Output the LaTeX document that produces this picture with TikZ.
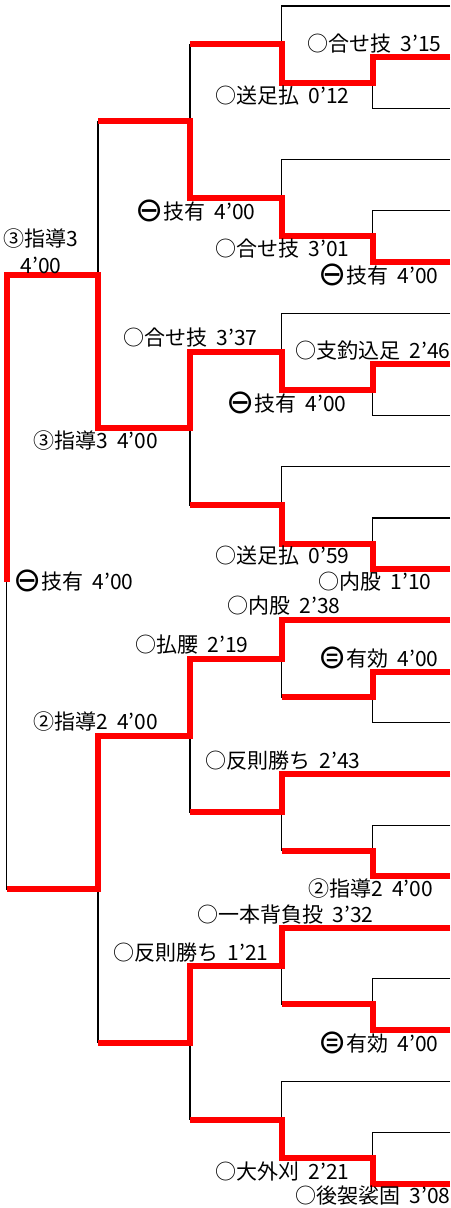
\documentclass[tikz,border=0pt]{standalone}
\usepackage{fontspec}
\setmainfont[WordSpace=2]{Noto Sans CJK JP}
\newfontfamily\symfont[Scale=1.6]{DejaVu Sans}
\newcommand{\minus}{\raisebox{-2pt}{\symfont ⊖}}
\newcommand{\equal}{\raisebox{-2pt}{\symfont ⊜}}
\tikzset{
  line/.style={line width=1.2pt, black},
  win/.style={line width=6pt, red},
  score/.style={anchor=west, inner sep=0pt, font=\fontsize{21}{27}\selectfont}
}

\begin{document}
\begin{tikzpicture}[x=1pt, y=-51.2pt]
  \useasboundingbox (0,-0.1172) rectangle (450,23.4766);
  \clip (0,-0.1172) rectangle (450,23.4766);

  % entries at the right edge
  \foreach \k in {0,...,23} \coordinate (L\k) at (450,\k);

  % match points, round by round
  \foreach \i in {1,...,8} \coordinate (A\i) at (372.5,{3*\i-1.5});
  \foreach \i in {1,...,8} \coordinate (B\i) at (281.5,{3*\i-2.25});
  \foreach \j in {1,...,4} \coordinate (C\j) at (190,{6*\j-3.75});
  \coordinate (D1) at (98,5.25);
  \coordinate (D2) at (98,17.25);
  \coordinate (E) at (6.5,11.25);

  % bracket
  \foreach \i/\p/\t/\b in {1/0/1/2,2/3/4/5,3/6/7/8,4/9/10/11,5/12/13/14,6/15/16/17,7/18/19/20,8/21/22/23}{
    \draw[line] (L\t) -| (A\i) |- (L\b);
    \draw[line] (L\p) -| (B\i) |- (A\i);
  }
  \foreach \j/\t/\b in {1/1/2,2/3/4,3/5/6,4/7/8}
    \draw[line] (B\t) -| (C\j) |- (B\b);
  \draw[line] (C1) -| (D1) |- (C2);
  \draw[line] (C3) -| (D2) |- (C4);
  \draw[line] (D1) -| (E) |- (D2);

  % winners
  \draw[win] (L1) -| (A1) -| (B1) -- (B1 -| C1);
  \draw[win] (L5) -| (A2) -| (B2) -| (C1) -- (C1 -| D1);
  \draw[win] (L7) -| (A3) -| (B3) -| (C2) -| (D1) -| (E);
  \draw[win] (L11) -| (A4) -| (B4) -- (B4 -| C2);
  \draw[win] (L13) -| (A5) -- (A5 -| B5);
  \draw[win] (L12) -| (B5) -| (C3) -| (D2) -- (D2 -| E);
  \draw[win] (L17) -| (A6) -- (A6 -| B6);
  \draw[win] (L15) -| (B6) -- (B6 -| C3);
  \draw[win] (L20) -| (A7) -- (A7 -| B7);
  \draw[win] (L18) -| (B7) -| (C4) -- (C4 -| D2);
  \draw[win] (L23) -| (A8) -| (B8) -- (B8 -| C4);

  % results
  \node[score] (s1) at (307,0.742) {○合せ技 3'15};
  \node[score] (s2) at (215,1.758) {○送足払 0'12};
  \node[score] (s3) at (135,4.004) {\minus 技有 4'00};
  \node[score, anchor=center, align=center] (s4) at (41,4.795) {③指導3\\4'00};
  \node[score] (s5) at (215,4.746) {○合せ技 3'01};
  \node[score] (s6) at (318,5.254) {\minus 技有 4'00};
  \node[score] (s7) at (123,6.484) {○合せ技 3'37};
  \node[score] (s8) at (295,6.738) {○支釣込足 2'46};
  \node[score] (s9) at (226,7.754) {\minus 技有 4'00};
  \node[score] (s10) at (33,8.496) {③指導3 4'00};
  \node[score] (s11) at (215,10.742) {○送足払 0'59};
  \node[score] (s12) at (318,11.25) {○内股 1'10};
  \node[score] (s13) at (13,11.23) {\minus 技有 4'00};
  \node[score] (s14) at (227,11.719) {○内股 2'38};
  \node[score] (s15) at (135,12.48) {○払腰 2'19};
  \node[score] (s16) at (318,12.73) {\equal 有効 4'00};
  \node[score] (s17) at (33,13.98) {②指導2 4'00};
  \node[score] (s18) at (205,14.746) {○反則勝ち 2'43};
  \node[score] (s19) at (308,17.246) {②指導2 4'00};
  \node[score] (s20) at (197,17.754) {○一本背負投 3'32};
  \node[score] (s21) at (113,18.477) {○反則勝ち 1'21};
  \node[score] (s22) at (318,20.254) {\equal 有効 4'00};
  \node[score] (s23) at (215,22.754) {○大外刈 2'21};
  \node[score] (s24) at (295,23.242) {○後袈裟固 3'08};
\end{tikzpicture}
\end{document}
